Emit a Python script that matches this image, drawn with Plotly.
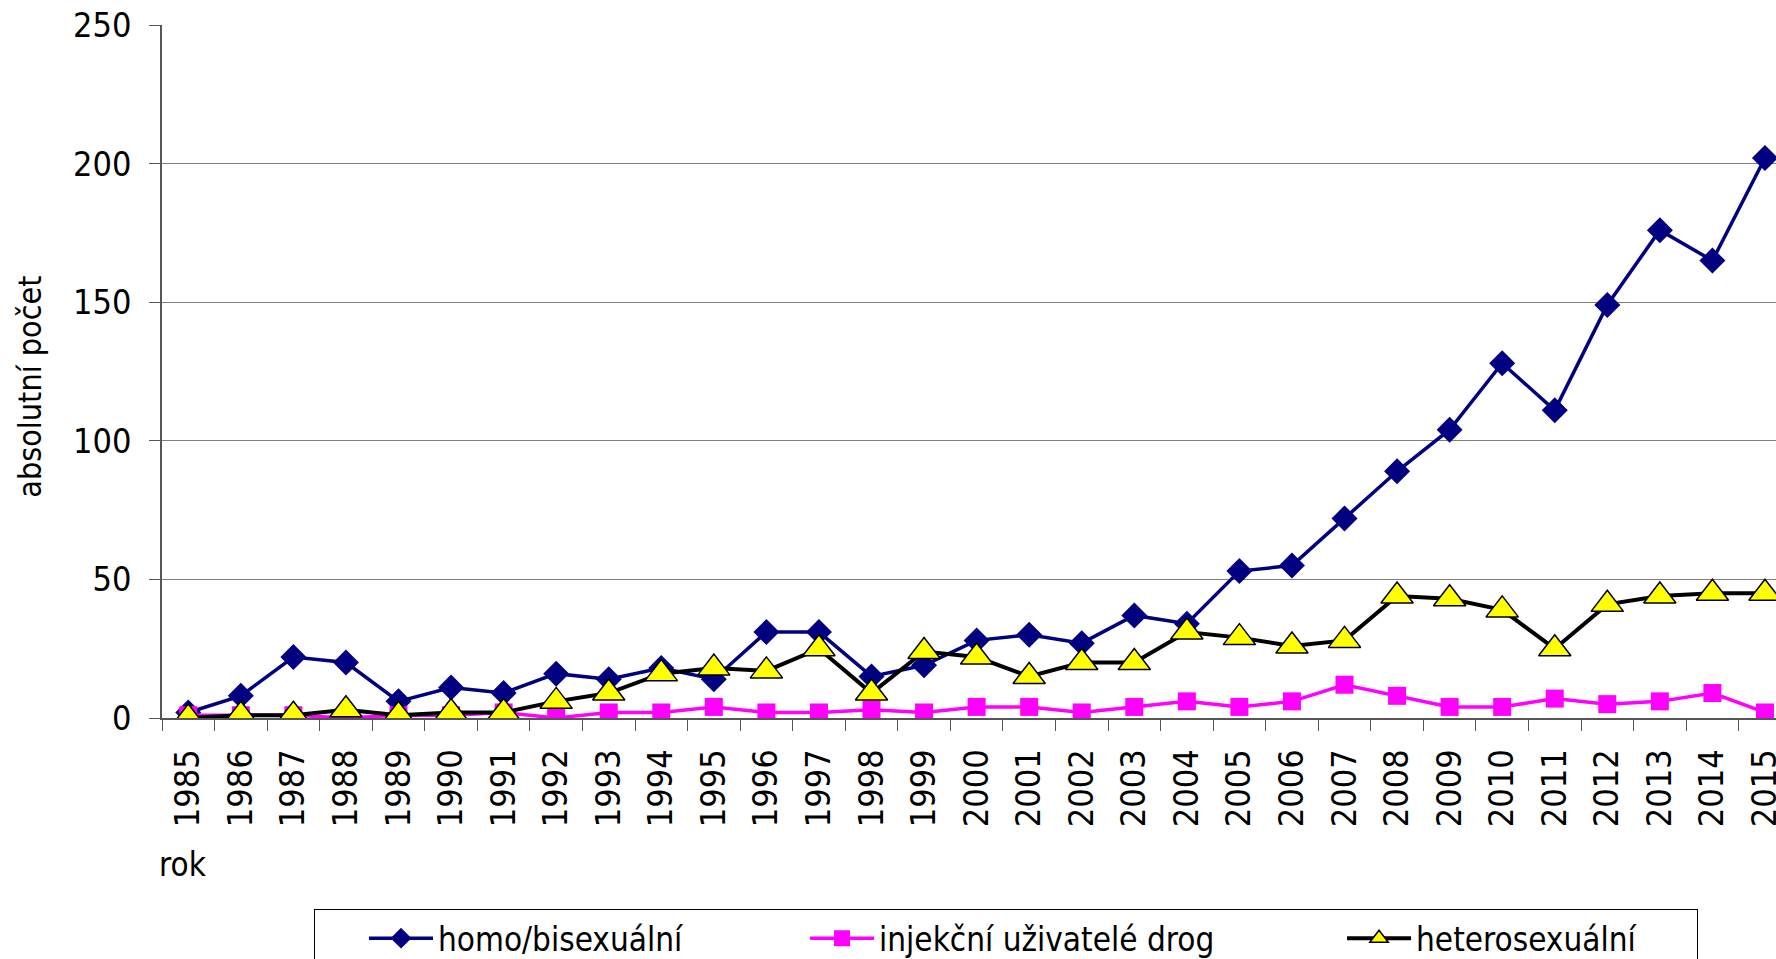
import plotly.graph_objects as go

years = [str(y) for y in range(1985, 2016)]
homo = [2, 8, 22, 20, 6, 11, 9, 16, 14, 18, 14, 31, 31, 15, 19, 28, 30, 27, 37, 34,
        53, 55, 72, 89, 104, 128, 111, 149, 176, 165, 202]
idu = [1, 1, 1, 0, 1, 1, 2, 0, 2, 2, 4, 2, 2, 3, 2, 4, 4, 2, 4, 6,
       4, 6, 12, 8, 4, 4, 7, 5, 6, 9, 2]
hetero = [0, 1, 1, 3, 1, 2, 2, 6, 9, 16, 18, 17, 25, 9, 24, 22, 15, 20, 20, 31,
          29, 26, 28, 44, 43, 39, 25, 41, 44, 45, 45]
series_names = ["homo/bisexuální", "injekční uživatelé drog", "heterosexuální"]
y_ticks = [0, 50, 100, 150, 200, 250]

FONT = "DejaVu Sans Condensed, Liberation Sans, Arial, sans-serif"

fig = go.Figure()
fig.add_trace(go.Scatter(
    x=years, y=homo, name=series_names[0], mode="lines+markers",
    line=dict(color="#000080", width=3.5),
    marker=dict(symbol="diamond", size=20, color="#000080"),
    legendwidth=313,
))
fig.add_trace(go.Scatter(
    x=years, y=idu, name=series_names[1], mode="lines+markers",
    line=dict(color="#FF00FF", width=3.5),
    marker=dict(symbol="square", size=18, color="#FF00FF"),
    legendwidth=409,
))
fig.add_trace(go.Scatter(
    x=years, y=hetero, name=series_names[2], mode="lines+markers",
    line=dict(color="#000000", width=4),
    marker=dict(symbol="triangle-up", size=28, color="#FFFF00",
                line=dict(color="#000000", width=1.5)),
    legendwidth=276,
))

fig.update_layout(
    width=1776, height=959,
    margin=dict(l=162, r=0, t=25, b=241, autoexpand=False),
    paper_bgcolor="white", plot_bgcolor="white",
    font=dict(family=FONT, size=33, color="black"),
    showlegend=True,
    legend=dict(
        orientation="h", x=0.0942, xanchor="left", y=-0.276, yanchor="top",
        bordercolor="#000000", borderwidth=1, bgcolor="white",
        font=dict(family=FONT, size=33, color="black"),
        itemwidth=64, indentation=49, traceorder="normal",
    ),
    xaxis=dict(
        type="category", categoryorder="array", categoryarray=years,
        range=[-0.5, 30.21], tickson="boundaries",
        ticks="outside", ticklen=11, tickcolor="#555555", tickwidth=1,
        tickangle=-90, tickfont=dict(family=FONT, size=34, color="black"),
        showgrid=False, showline=True, linecolor="#555555", linewidth=1.5,
        ticklabelstandoff=16,
    ),
    yaxis=dict(
        range=[0, 250], tickvals=y_ticks, ticks="outside", ticklen=11,
        tickcolor="#555555", tickwidth=1,
        tickfont=dict(family=FONT, size=34, color="black"),
        showgrid=True, gridcolor="#808080", gridwidth=1.2,
        showline=True, linecolor="#555555", linewidth=1.5, zeroline=False,
        ticklabelstandoff=11,
    ),
    annotations=[
        dict(text="absolutní počet", textangle=-90, xref="paper", yref="paper",
             x=-0.082, y=0.4776, xanchor="center", yanchor="middle",
             showarrow=False, font=dict(family=FONT, size=32, color="black")),
        dict(text="rok", xref="paper", yref="paper", x=-0.0033, y=-0.2107,
             xanchor="left", yanchor="middle", showarrow=False,
             font=dict(family=FONT, size=33, color="black")),
    ],
)

fig.write_html(
    "out.html",
    config={"displayModeBar": False},
    post_script="document.body.style.margin='0';document.body.style.overflow='hidden';",
)
